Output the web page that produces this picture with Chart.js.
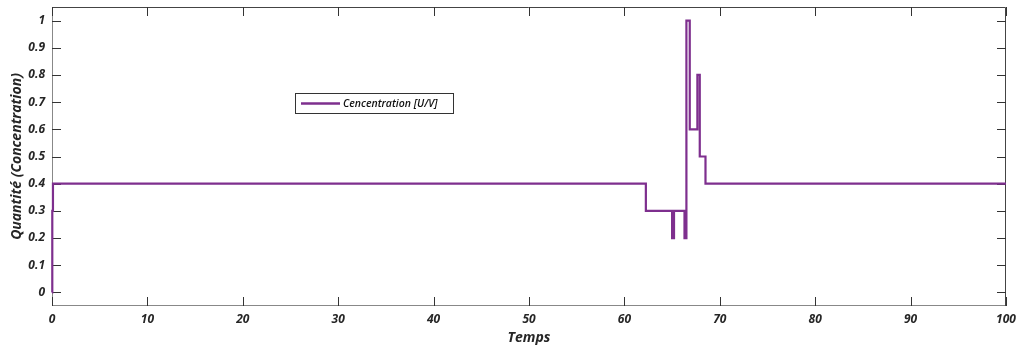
<!DOCTYPE html>
<html>
<head>
<meta charset="utf-8">
<script src="https://cdn.jsdelivr.net/npm/chart.js@4/dist/chart.umd.min.js"></script>
<style>
  html, body { margin: 0; padding: 0; background: #fff; }
  #wrap { width: 1019px; height: 347px; position: relative; }
</style>
</head>
<body>
<div id="wrap"><canvas id="c"></canvas></div>
<script>
'use strict';

// stairs series: value holds from each time until the next one
const times  = [0, 0.03, 0.1, 62.25, 65.0, 65.2, 66.3, 66.5, 66.85, 67.65, 67.9, 68.5, 100];
const values = [0, 0.3, 0.4, 0.3, 0.2, 0.3, 0.2, 1.0, 0.6, 0.8, 0.5, 0.4, 0.4];
const xTicks = [0, 10, 20, 30, 40, 50, 60, 70, 80, 90, 100];
const yTicks = [0, 0.1, 0.2, 0.3, 0.4, 0.5, 0.6, 0.7, 0.8, 0.9, 1];
const seriesLabel = 'Cencentration [U/V]';
const xTitle = 'Temps';
const yTitle = 'Quantité (Concentration)';

const PURPLE = '#7E2F8E';
const INK = '#262626';
const FONT = '"Open Sans", Lato, sans-serif';

// box round the plot with inward ticks on all four sides (under the line)
const boxPlugin = {
  id: 'box',
  beforeDatasetsDraw(chart) {
    const { ctx, chartArea: a, scales: { x, y } } = chart;
    const tl = 9;
    ctx.save();
    ctx.lineWidth = 1;
    ctx.strokeStyle = '#888';
    ctx.beginPath();
    ctx.moveTo(a.left + 0.5, a.top); ctx.lineTo(a.left + 0.5, a.bottom - 0.5);
    ctx.lineTo(a.right - 0.5, a.bottom - 0.5);
    ctx.stroke();
    ctx.strokeStyle = '#444';
    ctx.beginPath();
    ctx.moveTo(a.left, a.top + 0.5); ctx.lineTo(a.right - 0.5, a.top + 0.5);
    ctx.lineTo(a.right - 0.5, a.bottom);
    ctx.stroke();
    ctx.strokeStyle = '#333';
    ctx.beginPath();
    xTicks.forEach((v) => {
      const px = Math.round(x.getPixelForValue(v)) + 0.5;
      ctx.moveTo(px, a.bottom); ctx.lineTo(px, a.bottom - tl);
      ctx.moveTo(px, a.top); ctx.lineTo(px, a.top + tl);
    });
    yTicks.forEach((v) => {
      const py = Math.round(y.getPixelForValue(v)) + 0.5;
      ctx.moveTo(a.left, py); ctx.lineTo(a.left + tl, py);
      ctx.moveTo(a.right, py); ctx.lineTo(a.right - tl, py);
    });
    ctx.stroke();
    ctx.restore();
  },
  // legend box inside the plot
  afterDraw(chart) {
    const { ctx } = chart;
    const lx = 295, ly = 93, lw = 158, lh = 20;
    ctx.save();
    ctx.fillStyle = '#fff';
    ctx.fillRect(lx, ly, lw, lh);
    ctx.lineWidth = 1;
    ctx.strokeStyle = '#333';
    ctx.strokeRect(lx + 0.5, ly + 0.5, lw, lh);
    ctx.strokeStyle = PURPLE;
    ctx.lineWidth = 2.5;
    ctx.beginPath();
    ctx.moveTo(lx + 6, ly + lh / 2 + 0.5); ctx.lineTo(lx + 45, ly + lh / 2 + 0.5);
    ctx.stroke();
    ctx.fillStyle = '#111';
    ctx.font = 'italic 600 10.5px ' + FONT;
    ctx.textBaseline = 'middle';
    ctx.fillText(chart.data.datasets[0].label, lx + 48, ly + lh / 2 + 1);
    ctx.restore();
  },
};

const tickFont = { family: FONT, size: 12, weight: 'bold', style: 'italic' };
const titleFont = { family: FONT, size: 14, weight: 'bold', style: 'italic' };

new Chart(document.getElementById('c'), {
  type: 'line',
  data: {
    datasets: [{
      label: seriesLabel,
      data: times.map((t, i) => ({ x: t, y: values[i] })),
      borderColor: PURPLE,
      backgroundColor: PURPLE,
      borderWidth: 2.2,
      pointRadius: 0,
      stepped: true,
      fill: false,
      clip: 3,
    }],
  },
  options: {
    responsive: true, maintainAspectRatio: false, animation: false,
    layout: { padding: { left: 0, top: 7, right: 13, bottom: 0 } },
    plugins: { legend: { display: false }, tooltip: { enabled: false } },
    scales: {
      x: {
        type: 'linear', min: 0, max: 100,
        afterBuildTicks: (s) => { s.ticks = xTicks.map((v) => ({ value: v })); },
        afterFit: (s) => { s.height = 41; s.paddingLeft = 0; s.paddingRight = 0; },
        grid: { display: false, drawTicks: false },
        border: { display: false },
        ticks: { color: INK, font: tickFont, padding: 6, maxRotation: 0 },
        title: { display: true, text: xTitle, color: INK, font: titleFont, padding: { top: 0, bottom: 1 } },
      },
      y: {
        type: 'linear', min: -0.05, max: 1.05,
        afterBuildTicks: (s) => { s.ticks = yTicks.map((v) => ({ value: v })); },
        afterFit: (s) => { s.width = 52; s.paddingTop = 0; s.paddingBottom = 0; },
        grid: { display: false, drawTicks: false },
        border: { display: false },
        ticks: { color: INK, font: tickFont, padding: 7, callback: (v) => String(v) },
        title: { display: true, text: yTitle, color: INK, font: titleFont, padding: { top: 9, bottom: 0 } },
      },
    },
  },
  plugins: [boxPlugin],
});
</script>
</body>
</html>
